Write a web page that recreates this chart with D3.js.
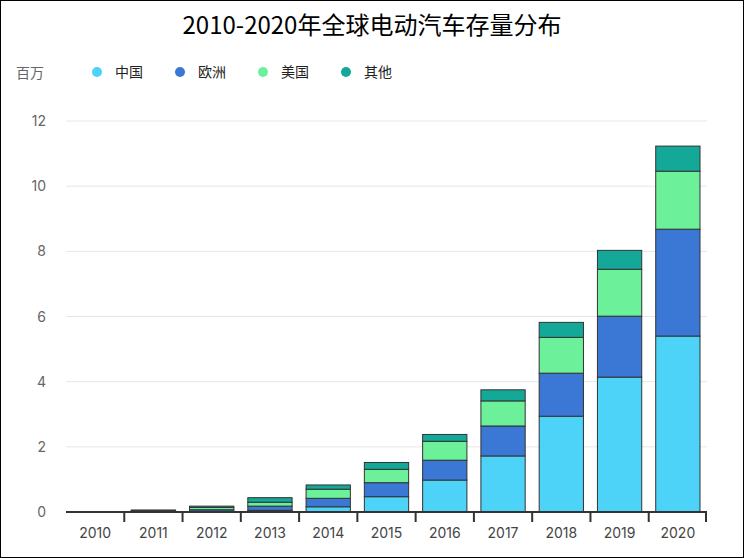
<!DOCTYPE html>
<html><head><meta charset="utf-8">
<script src="https://cdn.jsdelivr.net/npm/d3@7"></script>
<style>body{margin:0;background:#fff;font-family:"Noto Sans CJK SC","Noto Sans",sans-serif;}</style>
</head><body><svg id="chart" width="744" height="558"></svg>
<script>
var years = ["2010","2011","2012","2013","2014","2015","2016","2017","2018","2019","2020"];
var seriesNames = ["中国","欧洲","美国","其他"];
var china  = [0.005,0.01,0.02,0.05,0.16,0.47,0.98,1.72,2.94,4.14,5.40];
var europe = [0.005,0.02,0.05,0.13,0.26,0.43,0.61,0.92,1.32,1.87,3.28];
var usa    = [0.005,0.02,0.07,0.12,0.28,0.41,0.58,0.77,1.10,1.44,1.78];
var other  = [0.0,0.01,0.04,0.14,0.13,0.21,0.21,0.34,0.46,0.58,0.77];
var colors = ["#4dd2f8","#3b77d4","#6cf09a","#14a898"];
var yTicks = [0,2,4,6,8,10,12];

var svg = d3.select("#chart");
svg.append("rect").attr("x",0.5).attr("y",0.5).attr("width",743).attr("height",557)
	.attr("fill","#fff").attr("stroke","#000");

svg.append("text").attr("x",372).attr("y",34).attr("text-anchor","middle")
	.attr("font-size",24).attr("fill","#000").text("2010-2020年全球电动汽车存量分布");

var x = d3.scaleBand().domain(years).range([66,707]).paddingInner(0.24).paddingOuter(0.12);
var y = d3.scaleLinear().domain([0,12]).range([512,121]);

var g = svg.append("g");
g.selectAll(".grid").data(yTicks.slice(1)).enter().append("line")
	.attr("x1",66).attr("x2",707).attr("y1",function(d){return y(d);}).attr("y2",function(d){return y(d);})
	.attr("stroke","#e6e6e6");
g.selectAll(".yl").data(yTicks).enter().append("text")
	.attr("x",46).attr("y",function(d){return y(d)+5;}).attr("text-anchor","end")
	.attr("font-size",14).attr("fill","#666").attr("font-family","Inter,sans-serif").text(function(d){return d;});
svg.append("text").attr("x",16).attr("y",78).attr("font-size",14).attr("fill","#666").text("百万");

var rows = years.map(function(yr,i){return {year:yr,a:china[i],b:europe[i],c:usa[i],d:other[i]};});
var stack = d3.stack().keys(["a","b","c","d"])(rows);
stack.forEach(function(s,k){
	g.selectAll(".s"+k).data(s).enter().append("rect")
		.attr("x",function(d){return x(d.data.year);})
		.attr("width",x.bandwidth())
		.attr("y",function(d){return y(d[1]);})
		.attr("height",function(d){return y(d[0])-y(d[1]);})
		.attr("fill",colors[k]).attr("stroke","#333").attr("stroke-width",1);
});

var axis = svg.append("g").attr("transform","translate(0,512)");
axis.append("line").attr("x1",66).attr("x2",707).attr("stroke","#333").attr("stroke-width",2);
var step = x.step();
axis.selectAll(".tk").data(years.slice(1)).enter().append("line")
	.attr("x1",function(d){return x(d)-step*0.12;}).attr("x2",function(d){return x(d)-step*0.12;})
	.attr("y1",0).attr("y2",10).attr("stroke","#333").attr("stroke-width",2);
axis.append("line").attr("x1",706).attr("x2",706).attr("y1",0).attr("y2",10).attr("stroke","#333").attr("stroke-width",2);
axis.selectAll(".xl").data(years).enter().append("text")
	.attr("x",function(d){return x(d)+x.bandwidth()/2;}).attr("y",26).attr("text-anchor","middle")
	.attr("font-size",14).attr("fill","#444").attr("font-family","Inter,sans-serif").text(function(d){return d;});

var lg = svg.append("g");
seriesNames.forEach(function(n,i){
	var lx = 97 + i*83;
	lg.append("circle").attr("cx",lx).attr("cy",72).attr("r",5).attr("fill",colors[i]);
	lg.append("text").attr("x",lx+18).attr("y",77).attr("font-size",14).attr("fill","#222").text(n);
});
</script></body></html>
